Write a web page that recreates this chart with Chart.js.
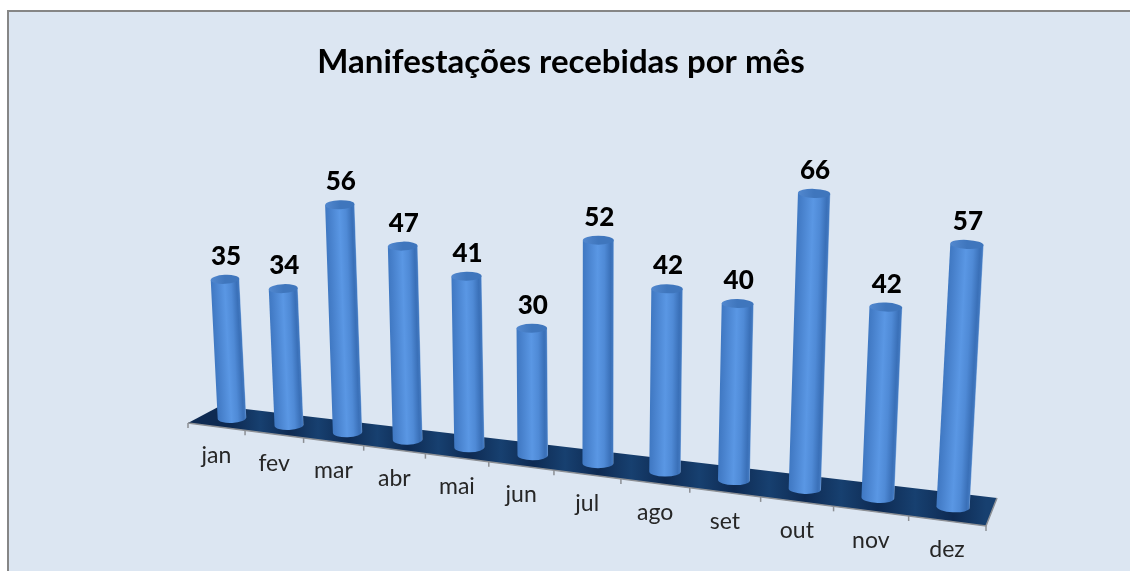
<!DOCTYPE html>
<html lang="pt">
<head>
<meta charset="utf-8">
<title>Manifestações recebidas por mês</title>
<script src="https://cdn.jsdelivr.net/npm/chart.js@4"></script>
<style>
  html, body { margin: 0; padding: 0; background: #fff; overflow: hidden; }
  #frame {
    position: absolute; left: 7px; top: 10px; width: 1123px; height: 561px;
    background: #dce6f2; border: solid #868686; border-width: 2px 0 0 2px;
    box-sizing: border-box;
  }
  #grafico { position: absolute; left: 0; top: 0; }
</style>
</head>
<body>
<div id="frame"></div>
<canvas id="grafico" width="1122" height="571"></canvas>
<script>
const meses = ["jan", "fev", "mar", "abr", "mai", "jun", "jul", "ago", "set", "out", "nov", "dez"];
const manifestacoes = [35, 34, 56, 47, 41, 30, 52, 42, 40, 66, 42, 57];
const titulo = "Manifestações recebidas por mês";

// cantos do piso em perspectiva
const pisoFundo = [[220, 406], [997, 498]];
const pisoFrente = [[188, 423], [986, 526]];
const encurtar = 0.153;
const pontoFuga = [586, 7450];

function piso(u, v) {
  const w = 1 - encurtar * u;
  const l = [pisoFundo[0][0] + (pisoFrente[0][0] - pisoFundo[0][0]) * v, pisoFundo[0][1] + (pisoFrente[0][1] - pisoFundo[0][1]) * v];
  const r = [pisoFundo[1][0] + (pisoFrente[1][0] - pisoFundo[1][0]) * v, pisoFundo[1][1] + (pisoFrente[1][1] - pisoFundo[1][1]) * v];
  return [
    (l[0] * (1 - u) + r[0] * (1 - encurtar) * u) / w,
    (l[1] * (1 - u) + r[1] * (1 - encurtar) * u) / w,
    w,
  ];
}

function desenhaPiso(chart) {
  const ctx = chart.ctx;
  const a = piso(0, 0), b = piso(1, 0), c = piso(1, 1), d = piso(0, 1);
  ctx.save();
  ctx.beginPath();
  ctx.moveTo(a[0], a[1]);
  ctx.lineTo(b[0], b[1]);
  ctx.lineTo(c[0], c[1]);
  ctx.lineTo(d[0], d[1]);
  ctx.closePath();
  // sombra mais escura junto das colunas
  const faixas = ctx.createLinearGradient(d[0], 0, c[0], 0);
  meses.forEach((m, i) => {
    const xc = (piso((i + 0.5) / meses.length, 0.5)[0] - d[0]) / (c[0] - d[0]);
    faixas.addColorStop(Math.max(0, Math.min(1, xc)), "#0e2a52");
    const xm = (piso((i + 1) / meses.length, 0.5)[0] - d[0]) / (c[0] - d[0]);
    faixas.addColorStop(Math.min(1, xm), "#174070");
  });
  ctx.fillStyle = faixas;
  ctx.fill();

  // borda da frente e da direita + marcas
  ctx.strokeStyle = "#8c8f94";
  ctx.lineWidth = 1.5;
  ctx.beginPath();
  ctx.moveTo(d[0], d[1]);
  ctx.lineTo(c[0], c[1]);
  ctx.lineTo(b[0], b[1]);
  ctx.stroke();
  for (let i = 0; i <= meses.length; i++) {
    const p = piso(i / meses.length, 1);
    ctx.beginPath();
    ctx.moveTo(p[0], p[1]);
    ctx.lineTo(p[0], p[1] + 5);
    ctx.stroke();
  }
  ctx.restore();
}

function desenhaColuna(ctx, base, topo, r) {
  const dx = topo[0] - base[0], dy = base[1] - topo[1];
  const alt = Math.hypot(dx, dy);
  ctx.save();
  ctx.translate(base[0], base[1]);
  ctx.rotate(Math.atan2(dx, dy));

  const g = ctx.createLinearGradient(-r, 0, r, 0);
  g.addColorStop(0, "#3f78c2");
  g.addColorStop(0.12, "#467fca");
  g.addColorStop(0.48, "#5a97e4");
  g.addColorStop(0.7, "#4f8ad6");
  g.addColorStop(0.9, "#3a70b8");
  g.addColorStop(0.97, "#4178c0");
  g.addColorStop(1, "#7fa8dc");

  ctx.beginPath();
  ctx.moveTo(-r, -alt);
  ctx.lineTo(-r, 0);
  ctx.ellipse(0, 0, r, 5, 0, Math.PI, 0, true);
  ctx.lineTo(r, -alt);
  ctx.closePath();
  ctx.fillStyle = g;
  ctx.fill();

  // tampa
  ctx.beginPath();
  ctx.ellipse(0, -alt, r, 4.5, 0, 0, Math.PI * 2);
  const t = ctx.createLinearGradient(-r, 0, r, 0);
  t.addColorStop(0, "#5288cf");
  t.addColorStop(0.5, "#3f76bd");
  t.addColorStop(1, "#3f76bd");
  ctx.fillStyle = t;
  ctx.fill();
  ctx.restore();
}

// ponto do topo da coluna a partir da barra calculada pelo Chart.js
function geometria(bar, xs) {
  const u = (bar.x - xs.left) / xs.width;
  const b = piso(u, 0.5);
  const h = (bar.base - bar.y) / b[2];
  const t = h / (pontoFuga[1] - b[1]);
  return { u, b, topo: [b[0] - (pontoFuga[0] - b[0]) * t, b[1] - h] };
}

const perspectiva = {
  id: "perspectiva",
  beforeDatasetsDraw(chart) {
    desenhaPiso(chart);
  },
  beforeDatasetDraw(chart, args) {
    args.meta.data.forEach((bar) => {
      const g = geometria(bar, chart.scales.x);
      desenhaColuna(chart.ctx, g.b, g.topo, 14.2 / g.b[2]);
    });
    return false;
  },
  afterDatasetsDraw(chart) {
    const ctx = chart.ctx;
    const xs = chart.scales.x;
    ctx.save();
    ctx.textAlign = "center";
    ctx.textBaseline = "middle";
    chart.getDatasetMeta(0).data.forEach((bar, i) => {
      const g = geometria(bar, xs);
      ctx.font = "900 26px Lato";
      ctx.fillStyle = "#000";
      ctx.fillText(String(manifestacoes[i]), g.topo[0] + 1, g.topo[1] - 23);

      const f = piso(g.u, 1);
      ctx.font = "23px Lato";
      ctx.fillStyle = "#262626";
      ctx.fillText(xs.getLabelForValue(i), f[0], f[1] + 29);
    });
    ctx.restore();
  },
};

new Chart(document.getElementById("grafico"), {
  type: "bar",
  data: {
    labels: meses,
    datasets: [{ label: "Manifestações", data: manifestacoes }],
  },
  plugins: [perspectiva],
  options: {
    responsive: false,
    animation: false,
    layout: { padding: 0 },
    scales: {
      x: { display: false },
      y: { display: false, min: 0, max: 117 },
    },
    plugins: {
      legend: { display: false },
      tooltip: { enabled: false },
      title: {
        display: true,
        text: titulo,
        color: "#000",
        font: { family: "Lato", size: 33, weight: "bold" },
        padding: { top: 43, bottom: 28 },
      },
    },
  },
});
</script>
</body>
</html>
